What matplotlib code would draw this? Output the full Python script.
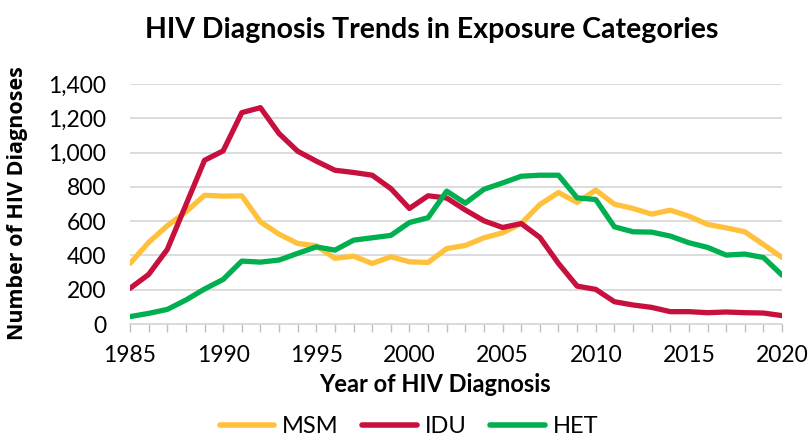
import matplotlib
matplotlib.use("Agg")
import matplotlib.pyplot as plt
from matplotlib.ticker import FuncFormatter, MultipleLocator

years = list(range(1985, 2021))
msm = [353, 476, 573, 654, 751, 746, 748, 596, 524, 470, 456, 383, 396, 353, 392, 363, 359, 440,
       458, 503, 532, 586, 697, 767, 709, 781, 699, 674, 641, 664, 629, 581, 561, 538, 464, 388]
idu = [208, 289, 435, 695, 955, 1010, 1233, 1262, 1111, 1008, 950, 897, 884, 868, 790, 674, 748, 735,
       665, 602, 563, 586, 505, 353, 221, 202, 130, 111, 97, 72, 72, 66, 70, 66, 64, 49]
het = [43, 62, 85, 140, 204, 260, 367, 361, 373, 412, 450, 431, 489, 503, 517, 592, 620, 775,
       705, 786, 823, 862, 868, 868, 736, 726, 567, 538, 536, 513, 474, 447, 402, 408, 388, 285]

series = [("MSM", msm, "#FFC13B"), ("IDU", idu, "#C8103E"), ("HET", het, "#00B050")]

fig = plt.figure(figsize=(8.1, 4.41), dpi=100)
ax = fig.add_axes([0.1605, 0.2653, 0.805, 0.5442])

for name, vals, col in series:
    ax.plot(years, vals, color=col, lw=3.8, label=name, solid_capstyle="round", solid_joinstyle="round")

ax.set_xlim(1985, 2020)
ax.set_ylim(0, 1400)
ax.yaxis.set_major_locator(MultipleLocator(200))
ax.yaxis.set_major_formatter(FuncFormatter(lambda v, p: f"{int(v):,}"))
ax.xaxis.set_major_locator(MultipleLocator(5))
ax.xaxis.set_minor_locator(MultipleLocator(1))
ax.grid(axis="y", color="#D9D9D9", lw=1.3)
ax.set_axisbelow(True)
for s in ["top", "right", "left"]:
    ax.spines[s].set_visible(False)
ax.spines["bottom"].set_color("#D9D9D9")
ax.spines["bottom"].set_linewidth(1.3)
ax.tick_params(axis="y", length=0, pad=17, labelsize=16.5)
ax.tick_params(axis="x", which="both", length=6, color="#BFBFBF", width=1, labelsize=16.5, pad=9)
for lab in ax.get_xticklabels() + ax.get_yticklabels():
    lab.set_family("Lato")

fig.text(0.533, 0.932, "HIV Diagnosis Trends in Exposure Categories", ha="center", va="center",
         fontsize=20.5, fontweight="bold", family="Lato")
fig.text(0.537, 0.127, "Year of HIV Diagnosis", ha="center", va="center",
         fontsize=17, fontweight="bold", family="Lato")
fig.text(0.022, 0.54, "Number of HIV Diagnoses", ha="center", va="center", rotation=90,
         fontsize=15.5, fontweight="bold", family="Open Sans")

leg = fig.legend(loc="center", bbox_to_anchor=(0.505, 0.033), ncol=3, frameon=False,
                 prop={"family": "Lato", "size": 17}, handlelength=2.3, handletextpad=0.35,
                 columnspacing=1.0, borderpad=0.1)
for h in leg.get_lines():
    h.set_linewidth(4)

fig.savefig("out.png", dpi=100)
